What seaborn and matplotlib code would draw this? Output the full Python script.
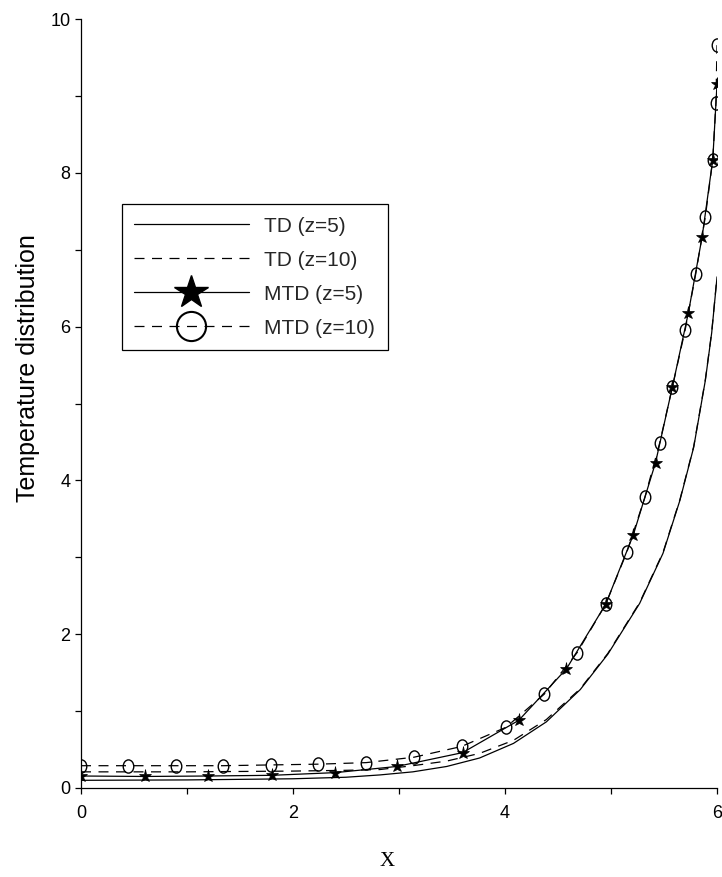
import matplotlib
matplotlib.use("Agg")
import matplotlib.pyplot as plt
import seaborn as sns
from matplotlib.lines import Line2D
from matplotlib.path import Path
from matplotlib.transforms import Affine2D

# ---------------- data ----------------
x_td5 = [0.0, 1.0, 2.0, 2.5, 2.82, 3.13, 3.45, 3.76, 4.08, 4.39, 4.71, 4.97, 5.27, 5.49, 5.65, 5.78, 5.89, 5.95, 6.0]
y_td5 = [0.10, 0.105, 0.12, 0.14, 0.17, 0.21, 0.28, 0.39, 0.58, 0.86, 1.28, 1.74, 2.40, 3.05, 3.74, 4.43, 5.30, 5.92, 6.64]

x_td10 = [0.0, 1.0, 2.0, 2.5, 2.82, 3.13, 3.45, 3.76, 4.08, 4.39, 4.71, 4.97, 5.27, 5.49, 5.65, 5.78, 5.89, 5.95, 6.0]
y_td10 = [0.21, 0.21, 0.22, 0.23, 0.24, 0.29, 0.35, 0.45, 0.62, 0.89, 1.29, 1.75, 2.41, 3.06, 3.75, 4.44, 5.31, 5.93, 6.65]

x_mtd5 = [0.0, 0.6, 1.2, 1.8, 2.4, 2.98, 3.6, 4.13, 4.58, 4.95, 5.21, 5.42, 5.58, 5.73, 5.86, 5.96, 6.0]
y_mtd5 = [0.156, 0.15, 0.156, 0.165, 0.20, 0.28, 0.46, 0.88, 1.55, 2.39, 3.29, 4.23, 5.22, 6.18, 7.17, 8.17, 9.15]

x_mtd10 = [0.0, 0.447, 0.894, 1.34, 1.79, 2.24, 2.69, 3.14, 3.59, 4.01, 4.37, 4.68, 4.95, 5.15, 5.32, 5.46,
           5.58, 5.70, 5.80, 5.89, 5.96, 5.99, 6.0]
y_mtd10 = [0.29, 0.29, 0.29, 0.29, 0.30, 0.31, 0.33, 0.40, 0.54, 0.79, 1.22, 1.76, 2.39, 3.07, 3.78, 4.49,
           5.22, 5.96, 6.69, 7.43, 8.17, 8.91, 9.66]

labels = ["TD (z=5)", "TD (z=10)", "MTD (z=5)", "MTD (z=10)"]
x_ticks = [0, 2, 4, 6]
y_ticks = [0, 2, 4, 6, 8, 10]

# ---------------- style ----------------
sns.set_style("ticks")
plt.rcParams["font.family"] = ["Liberation Sans", "DejaVu Sans"]

W, H = 722, 877
fig = plt.figure(figsize=(W / 100, H / 100), dpi=100)
ax = fig.add_axes([81 / W, 1 - 788 / H, 636 / W, 769 / H])

LW = 0.9
DASH = (0, (8, 6))
ellipse = Path.unit_circle().transformed(Affine2D().scale(0.8, 1.0))

sns.lineplot(x=x_td5, y=y_td5, ax=ax, color="black", lw=LW, sort=False, estimator=None)
sns.lineplot(x=x_td10, y=y_td10, ax=ax, color="black", lw=LW, linestyle=DASH, sort=False, estimator=None)
sns.lineplot(x=x_mtd5, y=y_mtd5, ax=ax, color="black", lw=LW, sort=False, estimator=None,
             marker="*", markersize=9.5, markerfacecolor="black", markeredgecolor="black", markeredgewidth=0.5)
sns.lineplot(x=x_mtd10, y=y_mtd10, ax=ax, color="black", lw=LW, linestyle=DASH, sort=False, estimator=None,
             marker=ellipse, markersize=9.5, markerfacecolor="none", markeredgecolor="black", markeredgewidth=1.0)

ax.set_xlim(0, 6)
ax.set_ylim(0, 10)
ax.set_xticks(x_ticks)
ax.set_xticklabels([str(t) for t in x_ticks])
ax.set_xticks([1, 3, 5], minor=True)
ax.set_yticks(y_ticks)
ax.set_yticklabels([str(t) for t in y_ticks])
ax.set_yticks([1, 3, 5, 7, 9], minor=True)

sns.despine(ax=ax)
for s in ("left", "bottom"):
    ax.spines[s].set_color("black")
    ax.spines[s].set_linewidth(0.9)
ax.tick_params(which="both", direction="out", length=4.2, width=0.9, color="black")
ax.tick_params(axis="x", which="major", labelsize=13, pad=8, labelcolor="black")
ax.tick_params(axis="y", which="major", labelsize=13, pad=3.5, labelcolor="black")

ax.set_ylabel("Temperature distribution", fontsize=18, color="black")
ax.yaxis.set_label_coords((28 - 81) / 636, (788 - 368) / 769)
ax.yaxis.label.set_va("center")
ax.set_xlabel("X", fontsize=15, family=["Liberation Serif", "DejaVu Serif"], color="black")
ax.xaxis.set_label_coords((387 - 81) / 636, (788 - 862) / 769)
ax.xaxis.label.set_va("center")

handles = [
    Line2D([], [], color="black", lw=LW),
    Line2D([], [], color="black", lw=LW, linestyle=DASH),
    Line2D([], [], color="black", lw=LW, marker="*", markersize=25, markerfacecolor="black", markeredgecolor="black"),
    Line2D([], [], color="black", lw=LW, linestyle=DASH, marker="o", markersize=21,
           markerfacecolor="none", markeredgecolor="black", markeredgewidth=1.5),
]
leg = fig.legend(handles, labels, loc="upper left", bbox_to_anchor=(121.7 / W, 1 - 204 / H),
                 bbox_transform=fig.transFigure, fontsize=15, handlelength=5.5, handletextpad=0.75,
                 labelspacing=0.72, borderpad=0.6, borderaxespad=0, frameon=True, fancybox=False,
                 framealpha=1, edgecolor="black")
leg.get_frame().set_linewidth(0.9)

fig.savefig("out.png", dpi=100)
